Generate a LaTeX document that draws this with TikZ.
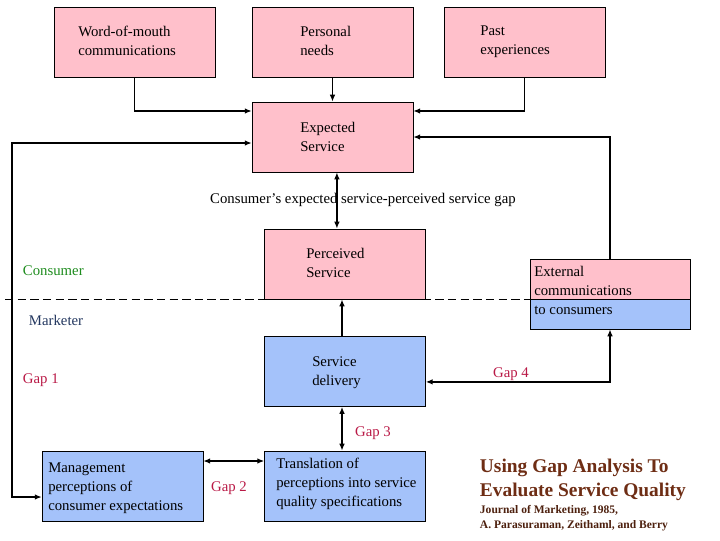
\documentclass[tikz,border=0pt]{standalone}
\usepackage{fontspec}
\setmainfont{Liberation Serif}
\usepackage{xcolor}
\usetikzlibrary{arrows.meta}

\definecolor{boxpink}{RGB}{255,192,203}
\definecolor{boxblue}{RGB}{164,194,250}
\definecolor{gapred}{RGB}{185,25,70}
\definecolor{consgreen}{RGB}{30,140,30}
\definecolor{marknavy}{RGB}{35,55,95}
\definecolor{titlebrown}{RGB}{110,45,20}

\begin{document}
\begin{tikzpicture}[x=0.025cm, y=-0.025cm, >={Latex[length=5pt,width=4pt]},
  every node/.style={font=\fontsize{10.5}{13.5}\selectfont},
  pinkbox/.style={draw, fill=boxpink, minimum width=4.02cm, minimum height=1.75cm, inner sep=0pt},
  bluebox/.style={draw, fill=boxblue, minimum width=4.02cm, minimum height=1.75cm, inner sep=0pt},
  boxtext/.style={anchor=north west, align=left, inner sep=0pt, execute at begin node=\strut},
  arr/.style={->, line width=1.1pt},
  both/.style={<->, line width=1.1pt},
  gaplabel/.style={text=gapred}]
  \useasboundingbox (0,0) rectangle (720,540);
  % Erwartungsquellen
  \node[pinkbox] (wom) at (134.5,42) {};
  \node[boxtext] at (78,26) {Word-of-mouth\\communications};
  \node[pinkbox] (pn) at (332.5,42) {};
  \node[boxtext] at (300,26) {Personal\\needs};
  \node[pinkbox] (past) at (524.5,42) {};
  \node[boxtext] at (480,26) {Past\\experiences};
  % Erwartete / wahrgenommene Leistung
  \node[pinkbox] (exp) at (332.5,137) {};
  \node[boxtext] at (300,122) {Expected\\Service};
  \node[pinkbox] (perc) at (345,264) {};
  \node[boxtext] at (306,248) {Perceived\\Service};
  % Externe Kommunikation (zweifarbig)
  \fill[boxpink] (530,259) rectangle (690,299);
  \fill[boxblue] (530,299) rectangle (690,329);
  \node[draw, minimum width=4cm, minimum height=1.75cm, inner sep=0pt] (ext) at (610,294) {};
  \draw (ext.west |- 0,299) -- (ext.east |- 0,299);
  \node[boxtext] at (534,265.5) {External\\communications\\to consumers};
  % Anbieterseite
  \node[bluebox] (deliv) at (345,371.5) {};
  \node[boxtext] at (312,356) {Service\\delivery};
  \node[bluebox] (mgmt) at (122.5,486) {};
  \node[boxtext] at (48,463) {Management\\perceptions of\\consumer expectations};
  \node[bluebox] (trans) at (345,486) {};
  \node[boxtext] at (276,458) {Translation of\\perceptions into service\\quality specifications};
  % Pfeile oben
  \draw[arr] (wom.south) |- ([yshift=0.65cm]exp.west);
  \draw[arr] (pn.south) -- (exp.north);
  \draw[arr] (past.south) |- ([yshift=0.65cm]exp.east);
  \draw[arr] (ext.north) |- (exp.east);
  \draw[both] ([yshift=-0.15cm]exp.west) -- ++(-240,0) |- ([yshift=-0.275cm]mgmt.west);
  \draw[both] ([xshift=0.11cm]exp.south) -- ([xshift=0.11cm]exp.south |- perc.north);
  \node (cgap) at (363,200) {Consumer's expected service-perceived service gap};
  % Trennlinie Konsument / Anbieter
  \coordinate (divl) at (5,299);
  \draw[dashed, line width=0.6pt, dash pattern=on 6pt off 3pt] (divl) -- (ext.west |- divl);
  \node[text=consgreen, anchor=west] (cons) at (18,271) {Consumer};
  \node[text=marknavy, anchor=west] (mark) at (24,320) {Marketer};
  % Pfeile unten
  \draw[arr] ([xshift=-0.075cm]deliv.north) -- ([xshift=-0.075cm]perc.south);
  \draw[both] ([xshift=-0.075cm]trans.north) -- ([xshift=-0.075cm]deliv.south);
  \draw[both] ([yshift=0.625cm]mgmt.east) -- ([yshift=0.625cm]trans.west);
  \draw[both] ([yshift=-0.26cm]deliv.east) -| (ext.south);
  % Luecken
  \node[gaplabel, anchor=west] (gap1) at (18,380) {Gap 1};
  \node[gaplabel] (gap2) at (229,488) {Gap 2};
  \node[gaplabel] (gap3) at (373,433) {Gap 3};
  \node[gaplabel] (gap4) at (511,374) {Gap 4};
  % Titel
  \node[anchor=west, align=left, text=titlebrown, font=\bfseries\fontsize{13.8}{17}\selectfont] (title) at (475,480) {Using Gap Analysis To\\Evaluate Service Quality};
  \node[anchor=west, align=left, text=titlebrown!70!black, font=\bfseries\fontsize{8.2}{11}\selectfont] (src) at (475,518) {Journal of Marketing, 1985,\\A. Parasuraman, Zeithaml, and Berry};
\end{tikzpicture}
\end{document}
